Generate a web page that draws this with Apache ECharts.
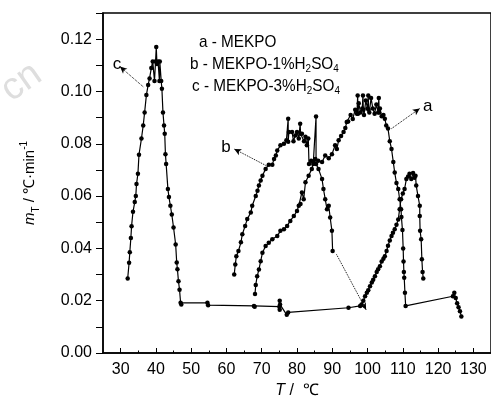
<!DOCTYPE html>
<html>
<head>
<meta charset="utf-8">
<script src="https://cdn.jsdelivr.net/npm/echarts@6/dist/echarts.min.js"></script>
<style>html,body{margin:0;padding:0;background:#fff}#c{width:491px;height:405px}</style>
</head>
<body>
<div id="c"></div>
<script>
// ---- data (T in ℃, mT in ℃/min) ----
var xTicks = [30, 40, 50, 60, 70, 80, 90, 100, 110, 120, 130];
var xMinorTicks = [35, 45, 55, 65, 75, 85, 95, 105, 115, 125];
var seriesNames = ['a - MEKPO', 'b - MEKPO-1%H2SO4', 'c - MEKPO-3%H2SO4'];

var seriesA = [
  [68.1,0.0226],[68.3,0.026],[68.7,0.0293],[69.2,0.0319],[69.7,0.0351],[70.2,0.0383],[71.1,0.0409],
  [72.0,0.0422],[73.0,0.0435],[74.4,0.0447],[75.3,0.0467],[76.3,0.0473],[77.2,0.0486],[78.1,0.0505],
  [79.1,0.0524],[80.0,0.0543],[80.5,0.0563],[81.0,0.057],[81.4,0.0614],[81.9,0.0588],[82.4,0.0653],
  [83.3,0.0678],[84.2,0.0704],[84.7,0.073],[85.2,0.0742],[86.0,0.0735],[87.1,0.073],[88.0,0.0755],
  [89.0,0.0745],[89.9,0.076],[90.8,0.0794],[91.3,0.078],[91.8,0.0813],[92.5,0.083],[93.2,0.0845],
  [93.7,0.086],[94.1,0.0883],[94.5,0.0885],[95.2,0.091],[95.8,0.0895],[96.5,0.093],[97.0,0.0915],
  [97.2,0.0985],[97.3,0.0915],[97.5,0.0955],[98.0,0.092],[98.5,0.0935],[98.7,0.0985],[98.8,0.093],
  [99.0,0.091],[99.5,0.0965],[100.0,0.0935],[100.2,0.0985],[100.3,0.093],[100.5,0.092],[101.0,0.0975],
  [101.5,0.0935],[102.0,0.0915],[102.5,0.095],[103.0,0.092],[103.2,0.0975],[103.3,0.092],[103.5,0.0935],
  [104.0,0.0905],[104.5,0.091],[104.9,0.0896],[105.3,0.087],[105.8,0.0858],[106.3,0.081],[106.8,0.078],
  [107.3,0.073],[107.7,0.069],[108.2,0.065],[108.7,0.0627],[109.1,0.0588],[109.5,0.055],[109.6,0.052],
  [109.9,0.047],[110.1,0.040],[110.2,0.035],[110.3,0.031],[110.4,0.0288],[110.6,0.023],[110.8,0.018],
  [124.2,0.0217],[124.6,0.023],[125.0,0.021],[125.4,0.019],[125.8,0.0175],[126.2,0.016],[126.6,0.014]
];

var seriesB = [
  [62.2,0.030],[62.5,0.0338],[62.8,0.037],[63.4,0.039],[64.1,0.0423],[64.5,0.0454],[65.3,0.0486],
  [65.9,0.0512],[66.9,0.0537],[67.3,0.0563],[68.3,0.060],[68.8,0.062],[69.2,0.064],[69.7,0.066],
  [70.2,0.0678],[71.1,0.0704],[72.0,0.072],[73.0,0.072],[73.5,0.0742],[74.0,0.0755],[74.4,0.0774],
  [75.3,0.0794],[76.3,0.080],[77.0,0.0813],[77.5,0.0896],[77.5,0.0808],[77.7,0.0845],[78.6,0.0845],
  [79.0,0.081],[79.5,0.0832],[80.0,0.0845],[80.5,0.082],[80.9,0.0877],[81.0,0.0838],[81.4,0.0838],
  [82.0,0.081],[82.4,0.0827],[82.8,0.0794],[83.2,0.082],[83.4,0.0723],[84.0,0.0735],[84.6,0.0723],
  [85.4,0.0904],[85.4,0.0723],[86.1,0.0704],[87.1,0.0665],[87.5,0.0627],[88.0,0.0588],[88.5,0.055],
  [89.0,0.0563],[89.4,0.0518],[89.9,0.0467],[90.1,0.039]
];

var seriesC = [
  [32.0,0.0285],[32.4,0.0345],[32.6,0.0385],[32.9,0.044],[33.1,0.0485],[33.5,0.054],[34.0,0.0577],
  [34.3,0.060],[34.5,0.0646],[34.9,0.0685],[35.2,0.0758],[35.9,0.082],[36.4,0.087],[36.8,0.092],
  [37.3,0.0986],[37.8,0.1025],[38.2,0.105],[38.7,0.109],[39.1,0.1115],[39.6,0.104],[39.9,0.1115],
  [40.1,0.117],[40.3,0.1105],[40.6,0.1115],[41.0,0.104],[41.1,0.1115],[41.5,0.104],[41.7,0.101],
  [42.0,0.092],[42.3,0.087],[42.5,0.0838],[42.7,0.076],[42.9,0.0723],[43.4,0.0627],[43.7,0.0596],
  [44.1,0.0563],[44.5,0.053],[45.0,0.048],[45.6,0.0415],[45.9,0.0346],[46.1,0.032],[46.4,0.0274],
  [46.7,0.0242],[47.0,0.0192],[47.2,0.0185],[54.6,0.0192],[54.8,0.0183],[67.8,0.0180],[68.0,0.0177],
  [75.0,0.0177],[75.1,0.020],[75.1,0.0165],[75.2,0.0185],[77.1,0.0146],[77.5,0.0155],[94.6,0.0173],
  [97.9,0.018],[98.3,0.0185],[98.8,0.020],[99.3,0.0217],[99.8,0.023],[100.2,0.024],[100.7,0.0255],
  [101.2,0.027],[101.6,0.028],[102.1,0.0293],[102.6,0.031],[103.0,0.032],[103.5,0.0332],[104.0,0.035],
  [104.5,0.036],[104.9,0.037],[105.4,0.039],[105.8,0.041],[106.3,0.043],[106.8,0.0447],[107.2,0.046],
  [107.7,0.0473],[108.2,0.049],[108.7,0.051],[109.1,0.055],[109.5,0.0588],[110.0,0.061],[110.5,0.0627],
  [111.0,0.0665],[111.5,0.0675],[111.9,0.0685],[112.4,0.0665],[112.9,0.0688],[113.3,0.067],[113.6,0.0678],
  [113.8,0.064],[114.3,0.060],[114.8,0.0563],[114.8,0.0524],[114.9,0.0467],[115.2,0.0435],[115.4,0.0358],
  [115.6,0.031],[115.8,0.0285]
];

// annotation arrows (data coordinates): [from, to]
var arrowA = [[106.8,0.0858],[114.8,0.0935]];
var arrowB = [[71.6,0.0714],[62.2,0.078]];
var arrowC = [[36.4,0.1018],[29.8,0.1095]];
var connectorB = [[91.2,0.0377],[99.6,0.0165]];

// ---- chart ----
var FONT = "'Liberation Sans',Arial,sans-serif";
var FS = 16;
var chart = echarts.init(document.getElementById('c'), null, {renderer: 'canvas'});

function lbl(text) {
  return {show: true, position: 'end', formatter: text, color: '#000', fontSize: 17, fontFamily: FONT, distance: 4};
}

function lineSeries(name, data, ml) {
  return {
    name: name, type: 'line', data: data,
    symbol: 'circle', symbolSize: 4.5, showAllSymbol: true,
    itemStyle: {color: '#000'},
    lineStyle: {color: '#000', width: 1.2},
    animation: false, silent: true,
    markLine: ml
  };
}

function markLines(pairs, labels, arrow) {
  return {
    silent: true,
    symbol: ['none', arrow ? 'arrow' : 'none'], symbolSize: [5, 7],
    lineStyle: {type: 'dotted', color: '#000', width: 1},
    label: {show: false},
    emphasis: {disabled: true},
    data: pairs.map(function (p, i) {
      var end = {coord: p[1]};
      if (labels[i]) end.label = lbl(labels[i]);
      return [{coord: p[0]}, end];
    })
  };
}

var richText = {
  n: {fontSize: 17, fontFamily: FONT, color: '#000'},
  s: {fontSize: 11, fontFamily: FONT, color: '#000', padding: [8, 0, 0, 0]}
};

chart.setOption({
  animation: false,
  grid: {left: 103, top: 13, right: -3, bottom: 52, show: true, borderColor: '#000', borderWidth: 1.5},
  xAxis: [{
    type: 'value', min: 25, max: 135, position: 'bottom',
    axisLine: {lineStyle: {color: '#000', width: 1.5}},
    axisTick: {inside: true, length: 5, customValues: xTicks, lineStyle: {color: '#000'}},
    axisLabel: {customValues: xTicks, color: '#000', fontSize: FS, fontFamily: FONT, margin: 9},
    splitLine: {show: false},
    name: '{i|T}{n| /  ℃}', nameLocation: 'middle', nameGap: 27,
    nameTextStyle: {rich: {
      i: {fontSize: 16, fontStyle: 'italic', fontFamily: FONT, color: '#000'},
      n: {fontSize: 16, fontFamily: FONT, color: '#000'}
    }}
  }, {
    type: 'value', min: 25, max: 135, position: 'bottom',
    axisLine: {show: false},
    axisTick: {inside: true, length: 2.5, customValues: xMinorTicks, lineStyle: {color: '#000'}},
    axisLabel: {show: false},
    splitLine: {show: false}
  }],
  yAxis: {
    type: 'value', min: 0, max: 0.13, interval: 0.01,
    axisLine: {lineStyle: {color: '#000', width: 1.5}},
    axisTick: {inside: false, length: 7, lineStyle: {color: '#000'}},
    axisLabel: {color: '#000', fontSize: FS, fontFamily: FONT, margin: 11,
      formatter: function (v) { var k = Math.round(v * 100); return (k % 2 === 0 && k <= 12) ? (k / 100).toFixed(2) : ''; }},
    splitLine: {show: false},
    name: '{i|m}{sub|T}{n| / ℃·min}{sup|-1}', nameLocation: 'middle', nameRotate: 90, nameGap: 62,
    nameTextStyle: {rich: {
      i: {fontSize: 15, fontStyle: 'italic', fontFamily: FONT, color: '#000', lineHeight: 22, verticalAlign: 'middle'},
      sub: {fontSize: 10, fontFamily: FONT, color: '#000', lineHeight: 22, verticalAlign: 'bottom'},
      n: {fontSize: 15, fontFamily: FONT, color: '#000', lineHeight: 22, verticalAlign: 'middle'},
      sup: {fontSize: 10, fontFamily: FONT, color: '#000', lineHeight: 22, verticalAlign: 'top'}
    }}
  },
  series: [
    lineSeries(seriesNames[0], seriesA, markLines([arrowA], ['a'], true)),
    lineSeries(seriesNames[1], seriesB, markLines([arrowB, connectorB], ['b', null], true)),
    lineSeries(seriesNames[2], seriesC, markLines([arrowC], ['c'], true))
  ],
  graphic: [
    {type: 'text', left: 199, top: 34, scaleX: 0.9, style: {text: '{n|a - MEKPO}', rich: richText}},
    {type: 'text', left: 190, top: 56, scaleX: 0.9, style: {text: '{n|b - MEKPO-1%H}{s|2}{n|SO}{s|4}', rich: richText}},
    {type: 'text', left: 192, top: 78, scaleX: 0.9, style: {text: '{n|c - MEKPO-3%H}{s|2}{n|SO}{s|4}', rich: richText}},
    {type: 'text', x: -6, y: 78, rotation: Math.PI * 35 / 180, z: -1,
     style: {text: 'cn', fontSize: 38, fontFamily: FONT, fill: '#dedede'}}
  ]
});
</script>
</body>
</html>
